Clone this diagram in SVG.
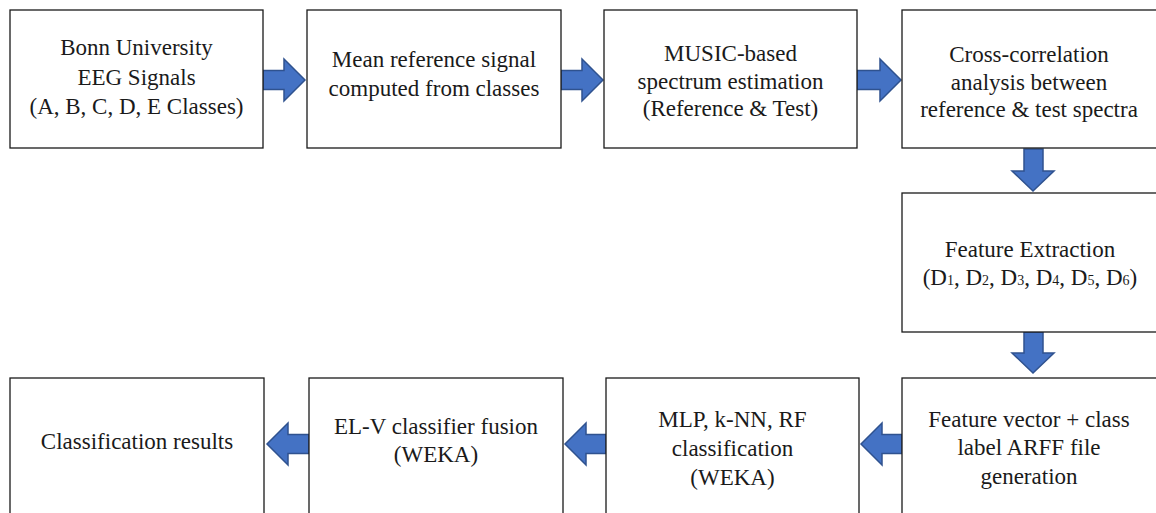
<svg xmlns="http://www.w3.org/2000/svg" width="1156" height="513" viewBox="0 0 1156 513">
<style>
.box{fill:#fff;stroke:#1a1a1a;stroke-width:1.3}
.t{font-family:'Liberation Serif',serif;font-size:23px;fill:#1a1a1a;text-anchor:middle}
.s{font-size:14px}
.arr{fill:#4472C4;stroke:#2F528F;stroke-width:1.5;stroke-linejoin:miter}
</style>
<rect width="1156" height="513" fill="#fff"/>
<g id="connectors">
<polygon class="arr" points="263,70.5 284,70.5 284,59 305,80 284,101 284,89.5 263,89.5"/>
<polygon class="arr" points="561,70.5 582,70.5 582,59 603,80 582,101 582,89.5 561,89.5"/>
<polygon class="arr" points="857,70.5 880,70.5 880,59 901,80 880,101 880,89.5 857,89.5"/>
<polygon class="arr" points="1024,149 1043,149 1043,171 1054,171 1033,191 1012,171 1024,171"/>
<polygon class="arr" points="1024,332 1043,332 1043,353 1054,353 1033,373 1012,353 1024,353"/>
<polygon class="arr" points="902,434.5 882,434.5 882,423 861,444 882,465 882,453.5 902,453.5"/>
<polygon class="arr" points="606,434.5 586,434.5 586,423 565,444 586,465 586,453.5 606,453.5"/>
<polygon class="arr" points="309,434.5 288,434.5 288,423 267,444 288,465 288,453.5 309,453.5"/>
</g>
<g id="n1"><rect class="box" x="10" y="10" width="253" height="138"/>
<text class="t"><tspan x="136.5" y="55">Bonn University</tspan><tspan x="136.5" y="85">EEG Signals</tspan><tspan x="136.5" y="114">(A, B, C, D, E Classes)</tspan></text></g>
<g id="n2"><rect class="box" x="307" y="10" width="254" height="138"/>
<text class="t"><tspan x="434" y="67">Mean reference signal</tspan><tspan x="434" y="96">computed from classes</tspan></text></g>
<g id="n3"><rect class="box" x="604" y="10" width="253" height="138"/>
<text class="t"><tspan x="730.5" y="61">MUSIC-based</tspan><tspan x="730.5" y="89">spectrum estimation</tspan><tspan x="730.5" y="116">(Reference &amp; Test)</tspan></text></g>
<g id="n4"><rect class="box" x="902" y="10" width="260" height="138"/>
<text class="t"><tspan x="1029" y="62">Cross-correlation</tspan><tspan x="1029" y="90">analysis between</tspan><tspan x="1029" y="117">reference &amp; test spectra</tspan></text></g>
<g id="n5"><rect class="box" x="902" y="193" width="260" height="139"/>
<text class="t"><tspan x="1030" y="257">Feature Extraction</tspan><tspan x="1030" y="285">(D<tspan class="s">1</tspan>, D<tspan class="s">2</tspan>, D<tspan class="s">3</tspan>, D<tspan class="s">4</tspan>, D<tspan class="s">5</tspan>, D<tspan class="s">6</tspan>)</tspan></text></g>
<g id="n6"><rect class="box" x="902" y="378" width="260" height="145"/>
<text class="t"><tspan x="1029" y="427">Feature vector + class</tspan><tspan x="1029" y="455">label ARFF file</tspan><tspan x="1029" y="484">generation</tspan></text></g>
<g id="n7"><rect class="box" x="606" y="378" width="253" height="145"/>
<text class="t"><tspan x="732.5" y="427">MLP, k-NN, RF</tspan><tspan x="732.5" y="456">classification</tspan><tspan x="732.5" y="485">(WEKA)</tspan></text></g>
<g id="n8"><rect class="box" x="309" y="378" width="254" height="145"/>
<text class="t"><tspan x="436" y="434">EL-V classifier fusion</tspan><tspan x="436" y="462">(WEKA)</tspan></text></g>
<g id="n9"><rect class="box" x="10" y="378" width="254" height="145"/>
<text class="t"><tspan x="137" y="449">Classification results</tspan></text></g>
</svg>
